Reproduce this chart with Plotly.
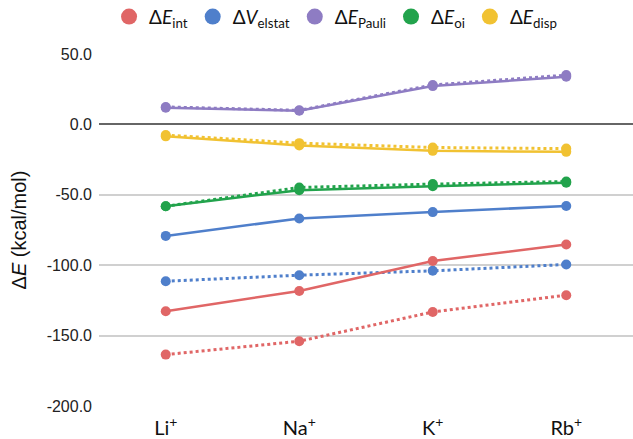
import plotly.graph_objects as go

# Alkali cations along the x axis
cations = ["Li<sup>+</sup>", "Na<sup>+</sup>", "K<sup>+</sup>", "Rb<sup>+</sup>"]

# Energy decomposition terms (kcal/mol), solid set
e_int = [-132.7, -118.3, -97.0, -85.3]
v_elstat = [-79.2, -66.8, -62.3, -57.9]
e_pauli = [11.8, 9.7, 27.2, 33.8]
e_oi = [-58.1, -46.7, -43.9, -41.5]
e_disp = [-8.5, -14.9, -18.8, -19.5]

# Same terms, dotted set
e_int_dot = [-163.5, -154.0, -133.2, -121.3]
v_elstat_dot = [-111.4, -107.1, -104.0, -99.5]
e_pauli_dot = [12.4, 10.0, 28.0, 35.0]
e_oi_dot = [-58.1, -44.8, -42.4, -40.6]
e_disp_dot = [-7.6, -13.3, -16.4, -17.2]

y_ticks = [50, 0, -50, -100, -150, -200]
y_tick_text = ["50.0", "0.0", "-50.0", "-100.0", "-150.0", "-200.0"]

colors = {
    "int": "#e06666",
    "elstat": "#4f7fcb",
    "pauli": "#8e7cc3",
    "oi": "#22a34c",
    "disp": "#f1c232",
}

series = [
    ("int", "Δ<i>E</i><sub>int</sub>", e_int, e_int_dot),
    ("elstat", "Δ<i>V</i><sub>elstat</sub>", v_elstat, v_elstat_dot),
    ("pauli", "Δ<i>E</i><sub>Pauli</sub>", e_pauli, e_pauli_dot),
    ("oi", "Δ<i>E</i><sub>oi</sub>", e_oi, e_oi_dot),
    ("disp", "Δ<i>E</i><sub>disp</sub>", e_disp, e_disp_dot),
]

fig = go.Figure()
x_idx = list(range(len(cations)))

# dotted lines first so solid lines sit on top
for key, name, solid, dotted in series:
    fig.add_trace(go.Scatter(
        x=x_idx, y=dotted, mode="lines+markers", showlegend=False,
        line=dict(color=colors[key], width=3, dash="dot"),
        marker=dict(color=colors[key], size=10),
        hoverinfo="skip",
    ))
for key, name, solid, dotted in series:
    fig.add_trace(go.Scatter(
        x=x_idx, y=solid, mode="lines+markers", showlegend=False,
        line=dict(color=colors[key], width=2.5),
        marker=dict(color=colors[key], size=10),
    ))
# legend entries: plain circles
for key, name, solid, dotted in series:
    fig.add_trace(go.Scatter(
        x=[None], y=[None], mode="markers", name=name,
        marker=dict(color=colors[key], size=16),
    ))

fig.update_layout(
    width=633, height=439,
    margin=dict(l=99, r=0, t=54, b=33, autoexpand=False),
    paper_bgcolor="white", plot_bgcolor="white",
    font=dict(family="Liberation Sans, Arial, sans-serif", color="#222222"),
    legend=dict(
        orientation="h", x=0.443, xanchor="center",
        y=0.962, yanchor="middle", yref="container",
        font=dict(family="Lato, sans-serif", size=19, color="#111111"),
        itemsizing="trace", traceorder="normal",
    ),
    xaxis=dict(
        range=[-0.5, 3.5], tickvals=x_idx, ticktext=cations,
        showgrid=False, zeroline=False, showline=False,
        tickfont=dict(family="Lato, sans-serif", size=20, color="#111111"),
        ticks="", ticklen=0, ticklabelstandoff=8, automargin=False,
    ),
    yaxis=dict(
        range=[-200, 50], tickvals=y_ticks, ticktext=y_tick_text,
        showgrid=True, gridcolor="#d0d0d0", gridwidth=1.5,
        zeroline=True, zerolinecolor="#666666", zerolinewidth=2,
        showline=False, automargin=False,
        ticks="", ticklabelstandoff=6,
        tickfont=dict(size=16, color="#222222"),
        title=dict(text="Δ<i>E</i> (kcal/mol)", font=dict(size=20, color="#111111"), standoff=14),
    ),
)

fig.write_html("out.html")
